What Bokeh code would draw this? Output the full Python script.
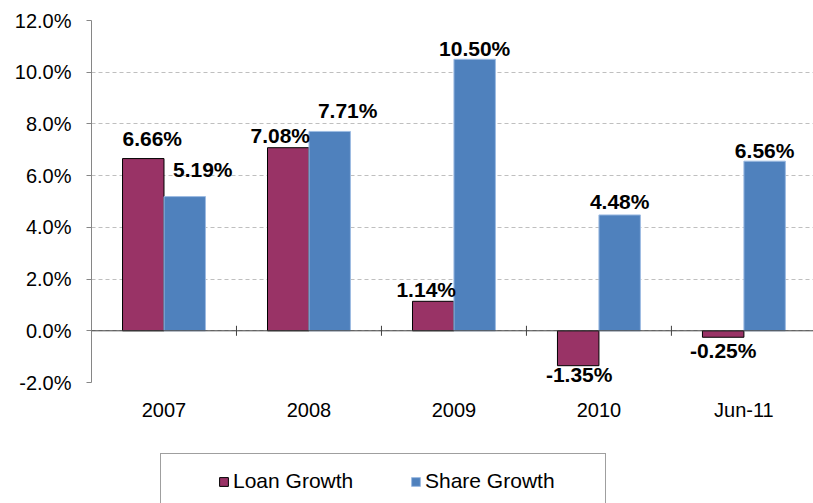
import numpy as np
from bokeh.plotting import figure
from bokeh.layouts import column
from bokeh.models import (Range1d, FixedTicker, Legend, LegendItem,
                          ColumnDataSource, PrintfTickFormatter, Span)
from bokeh.core.properties import value
from bokeh.embed import file_html
from bokeh.resources import INLINE

# ---- data ----
categories = ["2007", "2008", "2009", "2010", "Jun-11"]
loan_growth = [6.66, 7.08, 1.14, -1.35, -0.25]
share_growth = [5.19, 7.71, 10.50, 4.48, 6.56]
y_ticks = [-2, 0, 2, 4, 6, 8, 10, 12]
series_names = ["Loan Growth", "Share Growth"]

# label nudges (screen px), as placed in the original
loan_label_dx = [9, -8, -7, 1, 0]
loan_label_dy = [-20, -12, -12, 9, 13]
share_label_dx = [18, 18, 0, 0, 0]
share_label_dy = [-27, -21, -11, -13, -11]

FONT = "Liberation Sans"
LOAN_FILL = "#993366"
LOAN_LINE = "black"
SHARE_FILL = "#4F81BD"
SHARE_LINE = "#9DBBE2"

W = 813
H_MAIN, H_LEG = 448, 55
BORDER_L, BORDER_T, BORDER_B = 91, 20, 66
Y0, Y1 = -2, 12

centers = np.arange(len(categories)) + 0.5
bar_w = 0.286
loan_x = centers - bar_w / 2
share_x = centers + bar_w / 2

p = figure(width=W, height=H_MAIN,
           x_range=Range1d(0, 4.98), y_range=Range1d(Y0, Y1),
           output_backend="svg", toolbar_location=None,
           min_border_left=BORDER_L, min_border_right=0,
           min_border_top=BORDER_T, min_border_bottom=BORDER_B,
           outline_line_color=None, background_fill_color="white")

# grid
p.xgrid.visible = False
p.ygrid.grid_line_color = "#BFBFBF"
p.ygrid.grid_line_dash = "4 3"
p.ygrid.grid_line_width = 1

# bars
p.vbar(x=loan_x, top=loan_growth, bottom=0, width=bar_w,
       fill_color=LOAN_FILL, line_color=LOAN_LINE, line_width=1)
p.vbar(x=share_x, top=share_growth, bottom=0, width=bar_w,
       fill_color=SHARE_FILL, line_color=SHARE_LINE, line_width=1)

# zero line with category-boundary tick marks (5 px each side)
p.add_layout(Span(location=0, dimension="width", line_color="#404040", line_width=1))
px_per_unit = (H_MAIN - BORDER_T - BORDER_B) / (Y1 - Y0)
tick_half = 5 / px_per_unit
bounds = np.arange(1, len(categories))
p.segment(x0=bounds, x1=bounds, y0=-tick_half, y1=tick_half,
          line_color="#404040", line_width=1)

# y axis
yax = p.yaxis[0]
yax.ticker = FixedTicker(ticks=y_ticks)
yax.formatter = PrintfTickFormatter(format="%.1f%%")
yax.axis_line_color = "#868686"
yax.major_tick_line_color = "#868686"
yax.major_tick_in = 0
yax.major_tick_out = 5
yax.minor_tick_line_color = None
yax.major_label_standoff = 15
yax.major_label_text_font = FONT
yax.major_label_text_font_size = "20px"
yax.major_label_text_color = "black"

# x axis (category labels only)
xax = p.xaxis[0]
xax.ticker = FixedTicker(ticks=list(centers))
xax.major_label_overrides = {float(c): lab for c, lab in zip(centers, categories)}
xax.axis_line_color = None
xax.major_tick_line_color = None
xax.minor_tick_line_color = None
xax.major_tick_out = 0
xax.major_tick_in = 0
xax.major_label_standoff = 16
xax.major_label_text_font = FONT
xax.major_label_text_font_size = "20px"
xax.major_label_text_color = "black"

# data labels
loan_src = ColumnDataSource(dict(x=loan_x, y=loan_growth,
                                 t=[f"{v:.2f}%" for v in loan_growth],
                                 dx=loan_label_dx, dy=loan_label_dy))
share_src = ColumnDataSource(dict(x=share_x, y=share_growth,
                                  t=[f"{v:.2f}%" for v in share_growth],
                                  dx=share_label_dx, dy=share_label_dy))
for src in (loan_src, share_src):
    p.text(x="x", y="y", text="t", x_offset="dx", y_offset="dy", source=src,
           text_font=value(FONT), text_font_style="bold",
           text_font_size=value("21px"), text_color="black",
           text_align="center", text_baseline="alphabetic")

# ---- legend strip (separate figure under the chart) ----
lp = figure(width=W, height=H_LEG, x_range=Range1d(0, 1), y_range=Range1d(0, 1),
            output_backend="svg", toolbar_location=None,
            x_axis_location=None, y_axis_location=None,
            min_border=0, outline_line_color=None, background_fill_color="white")
lp.xgrid.visible = False
lp.ygrid.visible = False
# legend-key renderers: a zero-size bar each, hidden under the legend box
lr_loan = lp.vbar(x=[0.5], top=[0], bottom=[0], width=0,
                  fill_color=LOAN_FILL, line_color=LOAN_LINE)
lr_share = lp.vbar(x=[0.5], top=[0], bottom=[0], width=0,
                   fill_color=SHARE_FILL, line_color=SHARE_LINE)

legend = Legend(items=[LegendItem(label=series_names[0], renderers=[lr_loan]),
                       LegendItem(label=series_names[1], renderers=[lr_share])],
                orientation="horizontal", location=(69, -6),
                padding=15, spacing=12, margin=0,
                glyph_width=11, glyph_height=11, label_standoff=4,
                label_width=165,
                label_text_font=FONT, label_text_font_size="21px",
                label_text_color="black",
                title=".", title_location="left", title_text_font_size="2px",
                title_text_alpha=0, title_standoff=40,
                border_line_color="#404040", border_line_width=1,
                background_fill_color="white", background_fill_alpha=1)
lp.add_layout(legend, "center")

layout = column(p, lp, spacing=0)
open("out.html", "w").write(file_html(layout, INLINE))
